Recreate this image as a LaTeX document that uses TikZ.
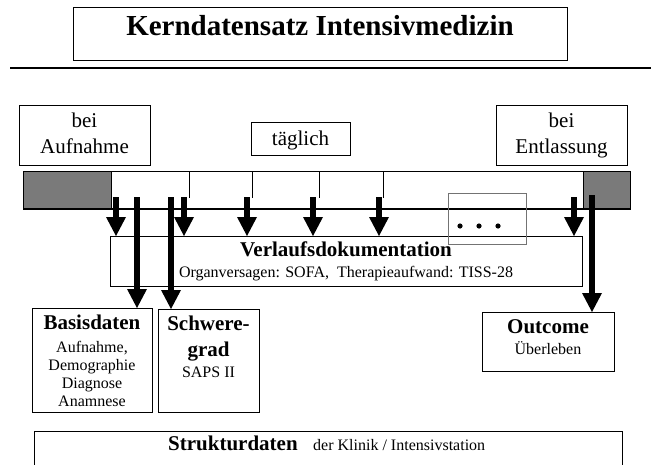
\documentclass[tikz,border=0pt]{standalone}
\usepackage{fontspec}
\setmainfont{Liberation Serif}
\usetikzlibrary{arrows.meta}
\begin{document}
\begin{tikzpicture}[x=1pt,y=-1pt,
  box/.style={draw, line width=0.9pt, inner sep=0pt, anchor=north west},
  hatch/.style={draw, line width=0.9pt, fill=black!52, inner sep=0pt, anchor=north west},
  txt/.style={anchor=base, inner sep=0pt},
  titlef/.style={font=\fontsize{29}{34}\selectfont\bfseries},
  big/.style={font=\fontsize{21}{25}\selectfont},
  bigb/.style={font=\fontsize{21}{25}\selectfont\bfseries},
  small/.style={font=\fontsize{16}{19}\selectfont},
  fat/.style={line width=5.5pt, -{Triangle[width=20pt,length=19pt,line width=0pt]}},
  tick/.style={line width=0.7pt}
]
\useasboundingbox (0,0) rectangle (661,464);

% title
\node[box, minimum width=494pt, minimum height=53pt] (titlebox) at (73,7) {};
\node[txt, titlef] (title) at (320,35) {Kerndatensatz Intensivmedizin};
\coordinate (ruleL) at (10,68);
\coordinate (ruleR) at (651,68);
\draw[line width=1.4pt] (ruleL) -- (ruleR);

% top boxes
\node[box, minimum width=131pt, minimum height=60pt] (aufn) at (19,105) {};
\node[txt, big] (aufn1) at (84.5,127) {bei};
\node[txt, big] (aufn2) at (84.5,153) {Aufnahme};
\node[box, minimum width=99pt, minimum height=33pt] (tgl) at (251,122) {};
\node[txt, big] (tgltxt) at (300.5,145) {täglich};
\node[box, minimum width=131pt, minimum height=60pt] (entl) at (496,105) {};
\node[txt, big] (entl1) at (561.5,127) {bei};
\node[txt, big] (entl2) at (561.5,153) {Entlassung};

% timeline bar
\node[box, line width=0.8pt, minimum width=607pt, minimum height=37pt] (bar) at (23,171) {};
\node[hatch, minimum width=88pt, minimum height=37pt] (lh) at (23,171) {};
\node[hatch, minimum width=47pt, minimum height=37pt] (rh) at (583,171) {};
\draw[line width=2.6pt] (bar.south west) -- (bar.south east);

% ticks
\draw[tick] (189,171) -- (189,198);
\draw[tick] (252,171) -- (252,198);
\draw[tick] (319,171) -- (319,198);
\draw[tick] (383,171) -- (383,198);

% Verlaufsdokumentation
\node[box, minimum width=472pt, minimum height=50pt] (verl) at (110,236) {};
\node[txt, bigb] (verl1) at (346,256.5) {Verlaufsdokumentation};
\node[txt, small] (verl2) at (346,277.5) {Organversagen: SOFA,\ \ Therapieaufwand: TISS-28};

% dots box
\node[box, draw=black!55, line width=0.7pt, minimum width=78pt, minimum height=51pt] (dots) at (448,193) {};
\fill (460,226) circle (2.6pt);
\fill (479,226) circle (2.6pt);
\fill (498,226) circle (2.6pt);

% lower boxes
\node[box, minimum width=120pt, minimum height=104pt] (basis) at (32,308) {};
\node[txt, bigb] (basis0) at (92,329) {Basisdaten};
\node[txt, small] (basis1) at (92,352) {Aufnahme,};
\node[txt, small] (basis2) at (92,370.3) {Demographie};
\node[txt, small] (basis3) at (92,388.6) {Diagnose};
\node[txt, small] (basis4) at (92,406.9) {Anamnese};

\node[box, minimum width=101pt, minimum height=103pt] (schw) at (158,309) {};
\node[txt, bigb] (schw1) at (208.5,330) {Schwere-};
\node[txt, bigb] (schw2) at (208.5,356) {grad};
\node[txt, small] (schw3) at (208.5,377) {SAPS II};

\node[box, minimum width=132pt, minimum height=59pt] (outc) at (482,312) {};
\node[txt, bigb] (outc1) at (548,333) {Outcome};
\node[txt, small] (outc2) at (548,354) {Überleben};

\node[box, minimum width=588pt, minimum height=45pt] (strk) at (34,431) {};
\node[txt, bigb, anchor=base west] (strk1) at (168,450) {Strukturdaten};
\node[txt, small, anchor=base west] (strk2) at (313,450) {der Klinik / Intensivstation};

% arrows
\coordinate (a1) at (116,197);
\coordinate (a2) at (184,197);
\coordinate (a3) at (247,197);
\coordinate (a4) at (313,197);
\coordinate (a5) at (379,197);
\coordinate (a6) at (574,197);
\foreach \c in {a1,a2,a3,a4,a5,a6}
  \draw[fat] (\c) -- (\c |- verl.north);
\coordinate (b1) at (137,197);
\coordinate (b2) at (171,197);
\coordinate (b3) at (592,195);
\draw[fat] (b1) -- (b1 |- basis.north);
\draw[fat] (b2) -- (b2 |- schw.north);
\draw[fat] (b3) -- (b3 |- outc.north);
\end{tikzpicture}
\end{document}
